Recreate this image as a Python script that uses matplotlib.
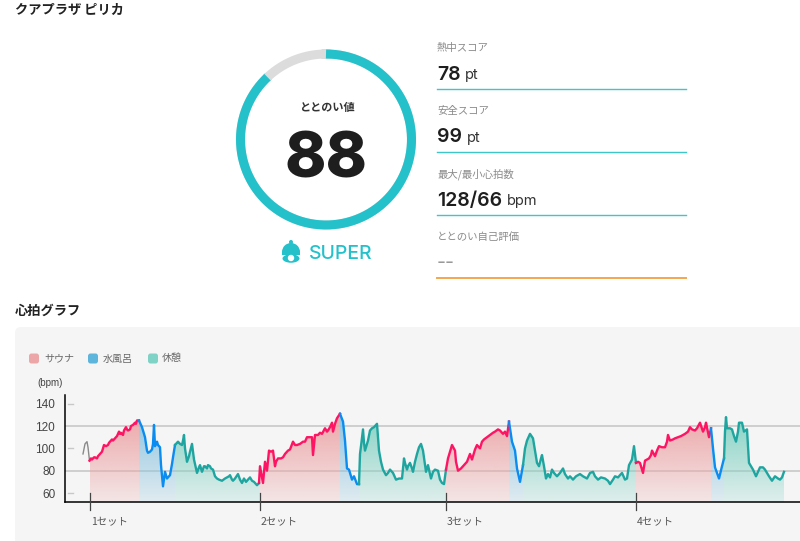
import numpy as np
import matplotlib
matplotlib.use('Agg')
from matplotlib import pyplot as plt
from matplotlib.patches import FancyBboxPatch, Ellipse, Circle, Wedge, Rectangle

plt.rcParams['font.family'] = ['Noto Sans CJK JP', 'DejaVu Sans']

# data
score = 88
score_label = 'ととのい値'
rank = 'SUPER'
row_labels = ['熱中スコア', '安全スコア', '最大/最小心拍数', 'ととのい自己評価']
row_values = ['78', '99', '128/66', '--']
row_units = ['pt', 'pt', 'bpm', '']
yticks = [60, 80, 100, 120, 140]
set_labels = ['1セット', '2セット', '3セット', '4セット']
set_times = [90, 260, 446, 636]
legend_names = ['サウナ', '水風呂', '休憩']

pre_t = [83, 85, 87, 88, 89.5]
pre_v = [95, 104, 106, 101, 89]

sauna1_t = [89.5, 91, 92, 94, 95, 97, 98, 100, 102, 103, 104, 106, 108, 109, 110, 112, 113, 115, 116, 117, 119, 120, 121, 123, 124, 126, 127, 128, 130, 131, 133, 135, 136, 137, 139]
sauna1_v = [89, 91, 90, 92, 92, 91, 93, 95, 97, 100, 103, 102, 103, 105, 106, 108, 107, 109, 110, 111, 115, 113, 114, 112, 116, 119, 117, 116, 117, 120, 121, 123, 122, 125, 125]
water1_t = [139, 141, 142, 144, 145, 147, 148, 150, 152, 153, 154, 155, 157, 158, 160, 161, 163, 165, 167, 170, 172, 173, 175]
water1_v = [125, 121, 119, 113, 110, 98, 96, 97, 99, 104, 121, 102, 106, 103, 101, 85, 66, 79, 73, 76, 86, 92, 103]
rest1_t = [175, 177, 178, 180, 182, 183, 184, 185, 187, 189, 190, 192, 194, 197, 199, 200, 202, 204, 205, 207, 208, 210, 211, 213, 215, 217, 219, 222, 225, 227, 229, 230, 232, 233, 235, 238, 240, 242, 244, 246, 248, 250, 252, 254, 257, 259]
rest1_v = [103, 105, 106, 104, 103, 107, 112, 100, 88, 93, 97, 104, 90, 78, 83, 85, 79, 84, 84, 82, 85, 84, 82, 81, 75, 73, 72, 71, 73, 74, 75, 76, 72, 71, 73, 77, 72, 69, 73, 70, 72, 74, 71, 70, 67, 69]

sauna2_t = [259, 260, 263, 265, 267, 269, 271, 273, 275, 276, 278, 281, 283, 285, 288, 290, 293, 295, 297, 300, 303, 305, 307, 310, 312, 313, 315, 318, 320, 322, 325, 327, 328, 330, 332, 333, 335, 337, 340]
sauna2_v = [69, 84, 69, 88, 80, 98, 97, 98, 84, 88, 91, 91, 92, 95, 98, 99, 106, 103, 103, 104, 106, 106, 110, 110, 110, 94, 112, 112, 114, 113, 118, 115, 116, 119, 123, 115, 122, 127, 131]
water2_t = [340, 343, 345, 347, 349, 352, 354, 357, 359]
water2_v = [131, 124, 107, 82, 81, 72, 75, 68, 68]
rest2_t = [359, 360, 361, 363, 364, 365, 367, 368, 370, 372, 374, 377, 379, 381, 383, 386, 388, 390, 393, 396, 399, 402, 404, 405, 407, 408, 410, 412, 413, 415, 417, 419, 421, 423, 426, 428, 431, 433, 435, 438, 440, 442, 444, 446]
rest2_v = [68, 95, 102, 117, 105, 98, 104, 107, 116, 118, 119, 122, 98, 88, 81, 76, 78, 81, 78, 72, 73, 73, 91, 87, 81, 84, 87, 82, 79, 88, 95, 101, 104, 98, 79, 85, 73, 79, 81, 80, 72, 69, 68, 81]

sauna3_t = [446, 448, 450, 452, 455, 456, 458, 461, 463, 465, 467, 470, 472, 475, 477, 480, 482, 484, 487, 490, 493, 495, 498, 500, 503, 505, 507, 509]
sauna3_v = [81, 91, 97, 103, 98, 88, 80, 82, 84, 86, 88, 95, 90, 99, 103, 100, 106, 108, 110, 112, 114, 115, 117, 116, 113, 115, 111, 124]
water3_t = [509, 512, 515, 517, 520, 523]
water3_v = [124, 106, 98, 82, 70, 85]
rest3_t = [523, 525, 527, 530, 533, 535, 537, 539, 541, 542, 544, 546, 548, 550, 552, 554, 557, 560, 563, 565, 568, 570, 573, 576, 580, 583, 587, 590, 593, 595, 598, 601, 605, 608, 610, 613, 615, 618, 622, 625, 627, 629, 632, 634, 636]
rest3_v = [85, 100, 107, 113, 109, 98, 87, 84, 91, 94, 84, 73, 77, 74, 81, 78, 75, 78, 82, 77, 73, 75, 72, 75, 77, 75, 73, 78, 79, 75, 72, 74, 73, 71, 68, 72, 75, 74, 78, 72, 73, 85, 90, 102, 87]

sauna4_t = [636, 638, 640, 643, 645, 647, 649, 651, 652, 655, 657, 659, 662, 665, 667, 668, 670, 673, 675, 678, 681, 685, 688, 690, 692, 695, 697, 700, 703, 705, 706, 709, 711]
sauna4_v = [87, 88, 87, 78, 89, 90, 91, 94, 98, 93, 98, 102, 101, 101, 106, 112, 107, 108, 109, 110, 111, 113, 115, 119, 117, 116, 118, 123, 115, 119, 123, 110, 118]
water4_t = [711, 713, 715, 717, 719, 722, 724]
water4_v = [118, 100, 83, 78, 73, 84, 91]
rest4_t = [724, 725, 726, 727, 730, 732, 734, 736, 738, 739, 742, 744, 747, 749, 751, 753, 756, 758, 760, 763, 765, 767, 769, 772, 775, 778, 780, 782, 784]
rest4_v = [91, 115, 128, 118, 118, 117, 111, 106, 115, 123, 123, 115, 117, 87, 84, 81, 75, 79, 83, 83, 81, 78, 75, 71, 75, 73, 72, 74, 79]

SAUNA = ('#ff1464', '#eda6a8')
WATER = ('#0a8cf0', '#8cc4e0')
REST = ('#1fa5a0', '#84d2c4')
TEAL = '#24c1cb'

W, H = 800, 541
fig = plt.figure(figsize=(W / 100, H / 100), dpi=100)

# 背景レイヤー (ピクセル座標)
bg = fig.add_axes([0, 0, 1, 1])
bg.set_xlim(0, W)
bg.set_ylim(H, 0)
bg.axis('off')

bg.text(15, 9.5, 'クアプラザ ピリカ', fontsize=9.5, fontweight='bold', color='#222222', va='center')
bg.text(15, 310.5, '心拍グラフ', fontsize=9.5, fontweight='bold', color='#222222', va='center')
bg.add_patch(FancyBboxPatch((15, 327), 800, 230, boxstyle='round,pad=0,rounding_size=6', fc='#f5f5f5', ec='none'))

# リング
cx, cy, r = 326, 139.5, 85.5
th = np.linspace(0, 2 * np.pi, 300)
bg.plot(cx + r * np.sin(th), cy - r * np.cos(th), color='#dcdcdc', lw=6.5)
th = np.linspace(0, 2 * np.pi * score / 100, 300)
bg.plot(cx + r * np.sin(th), cy - r * np.cos(th), color=TEAL, lw=6.5, solid_capstyle='butt')
bg.add_patch(Circle((cx + r * np.sin(th[-1]), cy - r * np.cos(th[-1])), 4.5, fc=TEAL, ec='none'))
bg.text(cx + 0.5, 108, score_label, fontsize=8, fontweight='bold', color='#333333', ha='center', va='center')
bg.text(cx, 161, str(score), fontsize=45, family=['Inter', 'DejaVu Sans'], fontweight=800, color='#1e1e1e', ha='center', va='center')

# アイコン
bg.add_patch(Wedge((291, 252), 9, 180, 360, fc=TEAL, ec='none'))
bg.add_patch(Rectangle((282, 252), 18, 2.5, fc=TEAL, ec='none'))
bg.add_patch(Circle((291, 242), 2, fc=TEAL, ec='none'))
bg.add_patch(Ellipse((291, 258.5), 17, 8.5, fc=TEAL, ec='none'))
bg.add_patch(Circle((291, 258), 3.2, fc='white', ec='none'))
bg.text(309, 254, rank, fontsize=14, family=['Inter', 'DejaVu Sans'], fontweight=500, color=TEAL, va='center')

# 右のスコア欄
row_y = [48, 111, 174, 237]
val_y = [74.5, 137.5, 200.5, 263]
line_y = [89.3, 152, 215, 277.5]
unit_x = [465, 467, 507, 0]
for i in range(4):
    bg.text(437, row_y[i], row_labels[i], fontsize=7.5, color='#8a8a8a', va='center')
    if row_values[i] == '--':
        bg.text(437, val_y[i], row_values[i], fontsize=14, family=['Inter', 'DejaVu Sans'], color='#999999', va='center')
    else:
        bg.text(437, val_y[i], row_values[i], fontsize=14, family=['Inter', 'DejaVu Sans'], fontweight=600, color='#1e1e1e', va='center')
        bg.text(unit_x[i], val_y[i] + 0.5, row_units[i], fontsize=10.5, family=['Inter', 'DejaVu Sans'], color='#333333', va='center')
    if i == 3:
        bg.plot([437, 686], [line_y[i], line_y[i]], color='#f5a650', lw=1.4)
    else:
        bg.plot([437, 686], [line_y[i], line_y[i]], color='#3fc6c8', lw=1.0)

# 凡例
for x0, tx, name, c in zip([29, 88, 148], [44, 103, 162], legend_names, ['#eda6a8', '#5db5dc', '#7fd2c6']):
    bg.add_patch(FancyBboxPatch((x0, 353.5), 10, 10, boxstyle='round,pad=0,rounding_size=2.5', fc=c, ec='none'))
    bg.text(tx, 358.5, name, fontsize=7.2, color='#666666', va='center')
bg.text(37, 383, '(bpm)', fontsize=7, family=['Liberation Sans', 'DejaVu Sans'], color='#444444', va='center')

# 心拍グラフ
left, right, top, bottom = 65, 800, 395, 502.3
ax = fig.add_axes([left / W, 1 - bottom / H, (right - left) / W, (bottom - top) / H])
ax.patch.set_alpha(0)
ax.spines['top'].set_visible(False)
ax.spines['right'].set_visible(False)
ax.spines['left'].set_linewidth(1.1)
ax.spines['bottom'].set_linewidth(1.1)
ax.set_yticks(yticks)
ax.set_yticklabels([str(v) for v in yticks], fontsize=8.5, family=['Liberation Sans', 'DejaVu Sans'], color='#444444')
ax.tick_params(axis='y', length=0, pad=7)
ax.set_xticks([])

ytrans = ax.get_yaxis_transform()
for v in [120, 80]:
    ax.plot([0, 1], [v, v], transform=ytrans, color='#c8c8c8', lw=1.2, zorder=1)
for v in [140, 100, 60]:
    ax.plot([0.004, 0.011], [v, v], transform=ytrans, color='#c8c8c8', lw=1.0, zorder=1)

xtrans = ax.get_xaxis_transform()
for t, name in zip(set_times, set_labels):
    ax.plot([t, t], [-0.075, 0.09], transform=xtrans, color='#444444', lw=0.9, clip_on=False, zorder=5)
    ax.text(t + 1, -0.185, name, transform=xtrans, fontsize=7.5, color='#555555', va='center')


def phase(t, v, colors):
    line_c, fill_c = colors
    rgba = np.zeros((64, 2, 4))
    rgba[:, :, :3] = matplotlib.colors.to_rgb(fill_c)
    rgba[:, :, 3] = np.linspace(1.0, 0.2, 64)[:, None]
    poly = ax.fill_between(t, v, 51.7, color='none')
    im = ax.imshow(rgba, extent=(t[0], t[-1], 51.7, 131), origin='upper', aspect='auto', zorder=2, interpolation='bilinear')
    im.set_clip_path(poly.get_paths()[0], ax.transData)
    ax.plot(t, v, color=line_c, lw=1.7, zorder=4, solid_joinstyle='round')


ax.plot(pre_t, pre_v, color='#8a8a8a', lw=1.0, zorder=4)
phase(sauna1_t, sauna1_v, SAUNA)
phase(water1_t, water1_v, WATER)
phase(rest1_t, rest1_v, REST)
phase(sauna2_t, sauna2_v, SAUNA)
phase(water2_t, water2_v, WATER)
phase(rest2_t, rest2_v, REST)
phase(sauna3_t, sauna3_v, SAUNA)
phase(water3_t, water3_v, WATER)
phase(rest3_t, rest3_v, REST)
phase(sauna4_t, sauna4_v, SAUNA)
phase(water4_t, water4_v, WATER)
phase(rest4_t, rest4_v, REST)
ax.set_xlim(left, right)
ax.set_ylim(51.7, 147.8)

fig.savefig('out.png', dpi=100)
